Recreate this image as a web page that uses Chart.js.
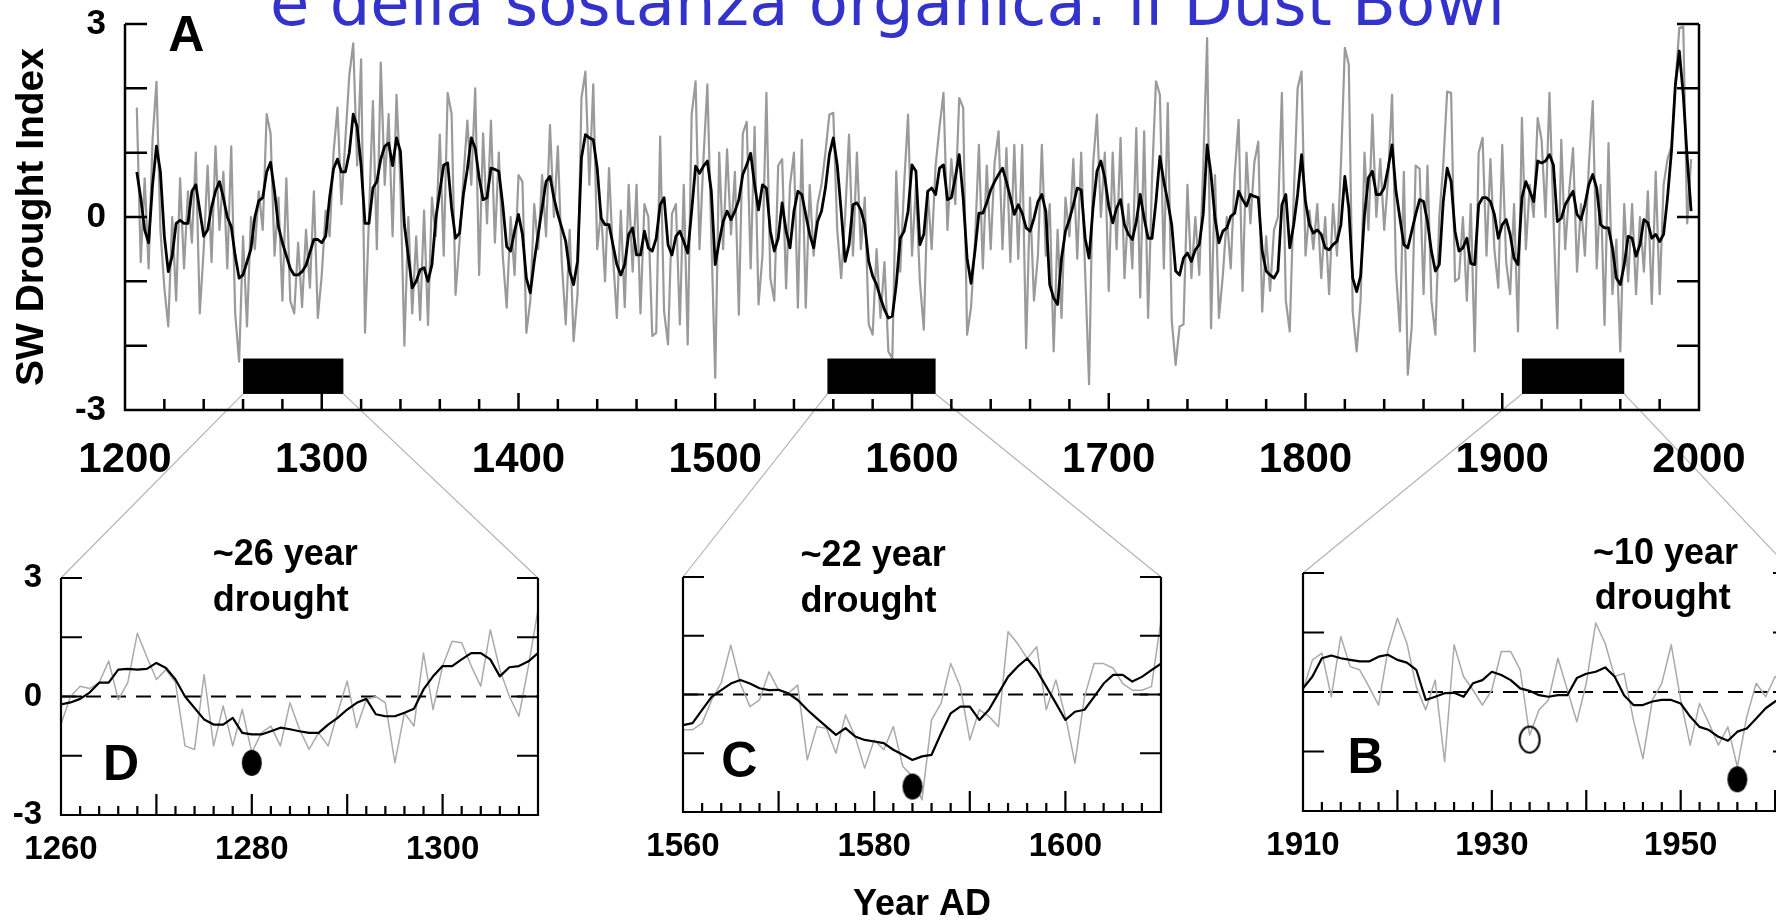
<!DOCTYPE html>
<html>
<head>
<meta charset="utf-8">
<script src="https://cdn.jsdelivr.net/npm/chart.js@4.4.1/dist/chart.umd.min.js"></script>
<style>
  html, body { margin: 0; padding: 0; background: #fff; overflow: hidden; width: 1776px; height: 922px; }
  canvas { position: absolute; }
  #title { position: absolute; left: 270px; top: -29px; font-family: 'DejaVu Sans'; font-size: 64px; line-height: 64px; color: #3333cc; white-space: nowrap; }
</style>
</head>
<body>
<div id="title">e della sostanza organica: il Dust Bowl</div>
<canvas id="links" width="1776" height="922" style="left:0;top:0"></canvas>
<canvas id="chartA" width="1776" height="480" style="left:0;top:0"></canvas>
<canvas id="chartD" width="600" height="380" style="left:0;top:520px"></canvas>
<canvas id="chartC" width="600" height="420" style="left:620px;top:520px"></canvas>
<canvas id="chartB" width="600" height="380" style="left:1240px;top:520px"></canvas>
<script>
// ---- panel A: whole record, one value every 2 years from 1206 ----
const aFirstYear = 1206;
const aStep = 2;
const aSmooth = [
  0.7, 0.3, -0.2, -0.4, 0.5, 1.1, 0.7, -0.3, -0.85, -0.6,
  -0.1, -0.05, -0.1, -0.1, 0.4, 0.5, 0.1, -0.3, -0.2, 0.15,
  0.4, 0.55, 0.3, 0.0, -0.15, -0.6, -0.95, -0.9, -0.7, -0.5,
  0.0, 0.25, 0.3, 0.7, 0.85, 0.4, -0.15, -0.4, -0.6, -0.8,
  -0.9, -0.9, -0.85, -0.75, -0.55, -0.35, -0.35, -0.4, -0.3, 0.3,
  0.75, 0.9, 0.7, 0.7, 1.0, 1.6, 1.4, 0.8, -0.1, -0.1,
  0.45, 0.55, 0.9, 1.1, 1.15, 0.8,
  1.23, 1.02, -0.12, -0.61, -1.1, -1.0, -0.82, -0.79, -1.0, -0.74,
  -0.02, 0.4, 0.81, 0.84, 0.14, -0.33, -0.25, 0.35, 0.74, 1.23,
  1.07, 0.61, 0.27, 0.3, 0.76, 0.74, 0.71, 0.19, -0.46, -0.53,
  -0.22, 0.04, -0.27, -0.95, -1.18, -0.69, -0.27, 0.14, 0.55, 0.63,
  0.3, 0.04, -0.17, -0.38, -0.84, -1.05, -0.69, 0.92, 1.28, 1.23,
  1.2, 0.76, -0.02, -0.12, -0.12, -0.43, -0.74, -0.9, -0.74, -0.27,
  -0.17, -0.59, -0.59, -0.22, -0.48, -0.53,
  -0.33, 0.19, 0.3, -0.43, -0.59, -0.3, -0.22, -0.38, -0.56, 0.09,
  0.79, 0.68, 0.79, 0.87, 0.4, -0.74, -0.38, -0.07, 0.09, -0.04,
  0.09, 0.27, 0.66, 0.81, 0.99, 0.5, 0.11, 0.5, 0.45, -0.22,
  -0.53, -0.33, 0.22, -0.22, -0.48, 0.09, 0.4, 0.35, 0.04, -0.27,
  -0.48, -0.07, 0.09, 0.45, 0.97, 1.23, 0.81, 0.09, -0.69, -0.43,
  0.19, 0.22, 0.11, -0.12, -0.69, -0.92, -1.05, -1.26, -1.44, -1.57,
  -1.54, -1.05, -0.33, -0.22, 0.09, 0.81, 0.71,
  -0.43, -0.27, 0.4, 0.45, 0.35, 0.76, 0.81, 0.27, 0.3, 0.61,
  0.97, 0.3, -0.64, -1.03, -0.53, 0.06, 0.06, 0.22, 0.42, 0.55,
  0.66, 0.76, 0.55, 0.3, 0.04, 0.19, 0.06, -0.17, -0.22, -0.02,
  0.24, 0.35, 0.09, -1.05, -1.26, -1.36, -0.64, -0.22, -0.04, 0.19,
  0.45, 0.42, -0.33, -0.64, 0.14, 0.71, 0.87, 0.61, 0.17, -0.09,
  0.14, 0.27, -0.12, -0.27, -0.35, -0.07, 0.35, -0.02, -0.33, -0.33,
  0.24, 0.94, 0.55, 0.24, -0.12, -0.84, -0.9,
  -0.64, -0.56, -0.69, -0.51, -0.43, 0.04, 1.12, 0.66, -0.02, -0.4,
  -0.22, -0.17, 0.01, 0.06, 0.4, 0.27, 0.17, 0.35, 0.32, 0.3,
  -0.53, -0.84, -0.9, -0.95, -0.84, 0.19, 0.35, -0.48, -0.12, 0.35,
  0.97, 0.24, -0.12, -0.25, -0.2, -0.27, -0.48, -0.51, -0.43, -0.38,
  -0.12, 0.63, 0.14, -0.95, -1.16, -0.92, 0.04, 0.61, 0.71, 0.35,
  0.35, 0.45, 0.76, 1.12, 0.4, -0.02, -0.43, -0.48, -0.22, 0.04,
  0.27, 0.24, -0.07, -0.53, -0.84, -0.74, 0.24, 0.76,
  0.55, -0.22, -0.53, -0.48, -0.33, -0.72, -0.74, 0.19, 0.3, 0.3,
  0.24, 0.04, -0.33, -0.12, -0.04, -0.27, -0.64, -0.74, 0.3, 0.55,
  0.4, 0.24, 0.87, 0.84, 0.87, 0.97, 0.81, -0.07, -0.02, 0.19,
  0.3, 0.4, 0.04, -0.04, 0.19, 0.5, 0.66, 0.45, -0.12, -0.17,
  -0.17, -0.48, -0.95, -1.05, -0.74, -0.3, -0.33, -0.61, -0.43, -0.04,
  -0.09, -0.33, -0.27, -0.38, -0.27, 0.3, 1.02, 2.06, 2.58, 1.9,
  0.92, 0.09
];
const aAnnual = [
  1.7, -0.7, 0.6, -0.8, 1.2, 2.1, -0.2, -1.1, -1.7, 0.0,
  -1.3, 0.6, -0.8, 0.4, -0.4, 1.0, -1.5, -0.5, 0.8, -0.7,
  1.1, -0.2, 0.7, -0.8, 1.1, -1.5, -2.25, -0.3, -1.7, 0.0,
  -0.5, 0.4, -0.2, 1.6, 1.3, -0.6, 0.3, -1.3, 0.6, -1.3,
  -1.5, -0.4, -1.4, -0.2, -1.1, 0.4, -1.57, -0.9, 0.1, -0.3,
  1.0, 1.7, 0.2, 1.2, 2.2, 2.7, 0.8, 2.45, -1.8, 0.0,
  1.8, -0.5, 2.4, 0.5, 1.6, -0.3,
  1.9, 0.5, -2.0, 0.0, -1.5, -0.3, -1.6, 0.1, -1.68, 0.3,
  -0.3, 1.28, -0.6, 1.93, 1.6, -1.21, -0.4, 0.6, 1.5, 0.5,
  2.0, -0.9, 1.3, -0.1, 1.5, -0.4, 1.0, -0.6, -1.41, 0.0,
  -0.9, 0.65, 0.55, -1.8, -1.3, 0.2, -0.5, 0.65, -0.3, 1.43,
  0.0, 1.1, -0.7, -1.67, -0.2, -1.93, -1.2, 1.85, 2.26, 0.5,
  2.06, -0.5, 0.1, -1.0, 0.76, -0.6, -1.57, 0.1, -1.4, 0.5,
  -0.85, 0.5, -1.5, 0.2, 0.0, -1.85,
  -1.8, 1.25, -1.47, -1.98, 0.05, 0.2, -1.67, 0.5, -1.98, 1.59,
  2.11, -0.5, 0.9, 2.06, -0.3, -2.5, 1.0, -0.5, 1.05, -0.27,
  0.7, -1.52, 1.3, 1.48, -0.8, 1.4, -1.36, -0.6, 1.93, -0.95,
  -1.3, 0.8, 0.9, -1.11, 0.5, 1.0, -1.41, 1.2, -1.41, 0.5,
  -0.6, 0.2, 0.5, 1.0, 1.59, 1.62, -0.2, -0.95, 0.0, 1.28,
  -0.6, 1.0, -0.5, 0.3, -1.67, -1.83, -0.5, -1.57, -0.7, -2.09,
  -2.2, 0.71, -0.85, 0.5, 1.59, -0.6, 0.5,
  -1.0, -1.75, 0.4, -0.5, 0.8, 1.4, 1.93, -0.2, 0.9, 0.2,
  1.85, 1.7, -1.83, -1.4, -0.4, 1.12, -0.8, 0.8, -0.5, 0.85,
  1.33, -0.5, 1.07, -0.7, 1.12, -0.65, 1.12, -2.04, 0.3, -1.3,
  -0.6, 1.12, -0.6, 0.2, -2.09, -0.2, -1.57, 0.3, -0.3, 0.9,
  -0.65, 1.0, -0.85, -2.6, 0.8, 1.59, 0.0, 1.0, -1.15, 1.0,
  -0.5, 1.23, -0.95, 0.2, -0.8, 1.38, -1.25, 1.33, -1.57, 0.6,
  2.11, 1.9, -0.8, 1.77, -1.6, -2.3, -1.7,
  -1.67, 0.5, -0.95, 0.0, -0.9, 0.76, 2.78, -1.73, 0.65, -1.57,
  -0.9, 0.0, -0.8, 0.65, 1.51, -1.15, 1.0, -0.1, 0.85, 1.17,
  -1.47, -0.3, -1.15, -0.2, 0.0, 1.93, -1.3, -1.78, 0.3, 2.0,
  2.26, -0.6, 0.1, -0.5, 0.2, -0.95, 0.0, -1.2, 0.2, -0.6,
  0.8, 2.63, 2.37, -1.47, -2.09, -1.3, 1.0, -0.2, 1.59, 0.0,
  0.9, -0.2, 0.6, 1.9, -0.85, -1.78, 0.7, -2.45, -1.7, 0.8,
  0.75, -1.2, 0.8, -1.3, -1.83, 0.0, 0.8, 1.95,
  1.93, -1.0, -0.95, 0.0, -1.3, 0.2, -2.09, 1.0, 1.23, -0.6,
  0.9, -0.5, -1.1, 1.12, -0.7, -1.2, 0.2, -1.78, 1.54, -0.5,
  0.5, 0.0, 1.54, 1.2, 0.0, 1.93, 0.0, -1.73, 1.2, -0.5,
  0.4, 1.07, -0.85, 0.2, -0.6, 0.8, 1.8, -0.8, 0.5, -1.68,
  1.15, -1.2, -0.35, -2.09, 0.2, -1.0, 0.2, -1.2, 0.0, -0.85,
  0.4, -1.35, 0.7, -1.2, 0.5, 0.9, 1.1, 2.06, 2.94, 2.96,
  -0.1, 0.9
];
const aYearLabels = [1200, 1300, 1400, 1500, 1600, 1700, 1800, 1900, 2000];
const indexLabels = [3, 0, -3];

// drought intervals marked in A and enlarged below
const droughtSpans = [[1260, 1311], [1557, 1612], [1910, 1962]];
const barRange = [-2.75, -2.2];

// ---- panel D: 1260-1310, annual ----
const dFirstYear = 1260;
const dAnnual = [
  -0.7, 0.0, 0.26, 0.2, 0.35, 0.9, -0.08, 0.35, 1.6, 1.0,
  0.43, 0.68, 0.35, -1.25, -1.34, 0.55, -1.25, -0.24, -1.25, -0.33,
  -1.42, -0.92, -0.75, -1.25, -0.16, -0.83, -1.34, -0.92, -1.25, -0.41,
  0.39, -0.79, -0.08, 0.0, -0.16, -1.68, -0.41, -0.75, 1.1, -0.33,
  0.77, 1.4, 1.36, 0.77, 0.26, 1.69, 0.68, 0.0, -0.5, 0.77,
  2.2
];
const dSmooth = [
  -0.2, -0.15, -0.06, 0.1, 0.35, 0.35, 0.68, 0.7, 0.68, 0.7,
  0.85, 0.72, 0.43, 0.0, -0.29, -0.58, -0.71, -0.71, -0.54, -0.92,
  -0.96, -0.96, -0.88, -0.79, -0.83, -0.88, -0.92, -0.92, -0.71, -0.54,
  -0.33, -0.16, -0.06, -0.45, -0.5, -0.5, -0.41, -0.31, 0.18, 0.51,
  0.77, 0.77, 0.94, 1.1, 1.1, 0.94, 0.51, 0.74, 0.77, 0.89,
  1.1
];
const dYearLabels = [1260, 1280, 1300];
const dFilled = [{x: 1280, y: -1.68}];

// ---- panel C: 1560-1610, annual ----
const cFirstYear = 1560;
const cAnnual = [
  -0.9, -0.9, -0.73, -0.14, 0.3, 1.26, 0.28, -0.31, -0.14, 0.58,
  0.11, 0.03, 0.24, -1.67, -0.82, -0.86, -1.5, -0.52, -1.07, -1.88,
  -1.16, -1.41, -0.82, -1.84, -2.09, -2.69, -0.65, -0.22, 0.79, 0.2,
  -1.16, -0.39, -0.56, -0.82, 1.6, 1.3, 0.92, 1.22, -0.39, 0.37,
  -0.56, -1.75, -0.06, 0.79, 0.79, 0.67, 0.28, 0.11, 0.11, 0.2,
  1.9
];
const cSmooth = [
  -0.78, -0.73, -0.39, -0.06, 0.11, 0.28, 0.37, 0.28, 0.16, 0.11,
  0.12, 0.03, -0.14, -0.39, -0.61, -0.82, -1.03, -0.86, -1.07, -1.16,
  -1.2, -1.24, -1.41, -1.54, -1.67, -1.58, -1.54, -0.99, -0.48, -0.31,
  -0.31, -0.65, -0.39, 0.03, 0.45, 0.71, 0.92, 0.62, 0.2, -0.22,
  -0.65, -0.44, -0.39, -0.06, 0.28, 0.5, 0.5, 0.33, 0.45, 0.62,
  0.79
];
const cYearLabels = [1560, 1580, 1600];
const cFilled = [{x: 1584, y: -2.35}];

// ---- panel B: 1910-1961, annual ----
const bFirstYear = 1910;
const bAnnual = [
  0.05, 0.81, 0.98, -0.12, 1.4, 0.64, 0.56, 0.13, -0.33, 1.06,
  1.86, 1.23, 0.13, -0.45, 0.3, -1.76, 1.19, 0.39, 0.05, -0.33,
  0.05, 1.02, 1.02, 0.56, -1.09, -0.45, -0.2, 0.85, 0.05, -0.75,
  0.22, 1.74, 1.23, 0.39, 0.47, -0.71, -1.68, -0.2, 0.22, 1.19,
  -0.2, -1.34, -0.29, -0.79, -1.34, -0.88, -1.89, -0.62, 0.22, -0.12,
  0.39, 0.1
];
const bSmooth = [
  0.09, 0.39, 0.85, 0.92, 0.85, 0.81, 0.77, 0.77, 0.89, 0.94,
  0.81, 0.74, 0.56, -0.2, -0.12, -0.03, -0.02, -0.12, 0.22, 0.3,
  0.51, 0.43, 0.3, 0.09, 0.03, -0.08, -0.12, -0.08, -0.08, 0.35,
  0.46, 0.51, 0.62, 0.39, -0.08, -0.33, -0.33, -0.24, -0.2, -0.2,
  -0.29, -0.62, -0.88, -0.96, -1.13, -1.23, -1.0, -0.92, -0.67, -0.41,
  -0.24, -0.12
];
const bYearLabels = [1910, 1930, 1950];
const bOpen = [{x: 1934, y: -1.2}];
const bFilled = [{x: 1956, y: -2.2}];

const FONT = "'Liberation Sans', Arial, Helvetica, sans-serif";
Chart.defaults.font.family = FONT;
Chart.defaults.color = '#000';

const toPoints = (first, step, vals) => vals.map((v, i) => ({x: first + i * step, y: v}));

function ellipseMark(filled) {
  const c = document.createElement('canvas');
  c.width = 24; c.height = 30;
  const g = c.getContext('2d');
  g.beginPath();
  g.ellipse(12, 15, 10, 13, 0, 0, Math.PI * 2);
  if (filled) { g.fillStyle = '#000'; g.fill(); }
  else { g.lineWidth = 2; g.strokeStyle = '#000'; g.stroke(); }
  return c;
}

// frame with inward ticks, no top line; optional dashed zero line, drought bars, text notes
const framePlugin = {
  id: 'frame',
  beforeDatasetsDraw(chart, args, o) {
    if (!o.zeroLine) return;
    const {ctx, chartArea: a, scales: {y}} = chart;
    const py = y.getPixelForValue(0);
    ctx.save();
    ctx.strokeStyle = '#000';
    ctx.lineWidth = 2;
    ctx.setLineDash([15, 10]);
    ctx.beginPath();
    ctx.moveTo(a.left, py);
    ctx.lineTo(a.right, py);
    ctx.stroke();
    ctx.restore();
  },
  afterDatasetsDraw(chart, args, o) {
    const {ctx, chartArea: a, scales: {x, y}} = chart;
    ctx.save();
    ctx.strokeStyle = '#000';
    ctx.lineWidth = o.width;
    ctx.beginPath();
    ctx.moveTo(a.left, a.top);
    ctx.lineTo(a.left, a.bottom);
    ctx.lineTo(a.right, a.bottom);
    ctx.lineTo(a.right, a.top);
    x.ticks.forEach(t => {
      const px = x.getPixelForValue(t.value);
      const len = t.value % o.majorEvery === 0 ? o.majorLen : o.minorLen;
      ctx.moveTo(px, a.bottom);
      ctx.lineTo(px, a.bottom - len);
    });
    y.ticks.forEach(t => {
      const py = y.getPixelForValue(t.value);
      ctx.moveTo(a.left, py);
      ctx.lineTo(a.left + o.yLen, py);
      ctx.moveTo(a.right, py);
      ctx.lineTo(a.right - o.yLen, py);
    });
    ctx.stroke();
    if (o.bars) {
      ctx.fillStyle = '#000';
      o.bars.forEach(([from, to]) => {
        const x0 = x.getPixelForValue(from), x1 = x.getPixelForValue(to);
        const y0 = y.getPixelForValue(barRange[1]), y1 = y.getPixelForValue(barRange[0]);
        ctx.fillRect(x0, y0, x1 - x0, y1 - y0);
      });
    }
    ctx.restore();
  },
  afterDraw(chart, args, o) {
    const {ctx, scales: {x, y}} = chart;
    ctx.save();
    ctx.fillStyle = '#000';
    ctx.textAlign = 'left';
    ctx.textBaseline = 'middle';
    (o.notes || []).forEach(n => {
      ctx.font = 'bold ' + n.size + 'px ' + FONT;
      ctx.fillText(n.text, x.getPixelForValue(n.x), y.getPixelForValue(n.y));
    });
    ctx.restore();
  }
};

const chartA = new Chart(document.getElementById('chartA'), {
  type: 'line',
  data: {
    datasets: [
      { data: toPoints(aFirstYear, aStep, aSmooth), borderColor: '#000', borderWidth: 2.8,
        pointRadius: 0, tension: 0, borderJoinStyle: 'round', order: 1 },
      { data: toPoints(aFirstYear, aStep, aAnnual), borderColor: '#9a9a9a', borderWidth: 2.2,
        pointRadius: 0, tension: 0, borderJoinStyle: 'round', order: 2 }
    ]
  },
  options: {
    responsive: false,
    animation: false,
    events: [],
    layout: { padding: { left: 0, top: 24, right: 77, bottom: 0 } },
    scales: {
      x: {
        type: 'linear', min: 1200, max: 2000,
        border: { display: false },
        grid: { display: false, drawTicks: false },
        ticks: {
          stepSize: 20, autoSkip: false, maxRotation: 0, minRotation: 0, padding: 25,
          font: { size: 42, weight: 'bold' },
          callback: v => aYearLabels.includes(v) ? String(v) : ''
        },
        afterFit: s => { s.height = 70; }
      },
      y: {
        min: -3, max: 3,
        border: { display: false },
        grid: { display: false, drawTicks: false },
        ticks: {
          stepSize: 1, padding: 19,
          font: { size: 35, weight: 'bold' },
          callback: v => indexLabels.includes(v) ? String(v) : ''
        },
        title: { display: true, text: 'SW Drought Index', font: { size: 39, weight: 'bold' }, padding: { top: 9, bottom: 0 } },
        afterFit: s => { s.width = 125; s.paddingTop = 0; s.paddingBottom = 0; }
      }
    },
    plugins: {
      legend: { display: false },
      tooltip: { enabled: false },
      frame: {
        width: 2.5, majorEvery: 100, majorLen: 17, minorLen: 11, yLen: 22,
        bars: droughtSpans,
        notes: [{ text: 'A', x: 1222, y: 2.8, size: 50 }]
      }
    }
  },
  plugins: [framePlugin]
});

function panelChart(id, p) {
  const datasets = p.marks.map(m => ({
    data: m.data, showLine: false, pointStyle: ellipseMark(m.filled), pointRadius: 12, order: 0
  }));
  datasets.push(
    { data: toPoints(p.first, 1, p.smooth), borderColor: '#000', borderWidth: 2.2,
      pointRadius: 0, tension: 0, borderJoinStyle: 'round', order: 1 },
    { data: toPoints(p.first, 1, p.annual), borderColor: '#aaaaaa', borderWidth: 1.5,
      pointRadius: 0, tension: 0, borderJoinStyle: 'round', order: 2 }
  );
  return new Chart(document.getElementById(id), {
    type: 'line',
    data: { datasets },
    options: {
      responsive: false,
      animation: false,
      events: [],
      layout: { padding: { left: 0, top: p.top, right: p.right, bottom: 0 } },
      scales: {
        x: {
          type: 'linear', min: p.min, max: p.max,
          border: { display: false },
          grid: { display: false, drawTicks: false },
          ticks: {
            stepSize: 2, autoSkip: false, maxRotation: 0, minRotation: 0, padding: 15,
            font: { size: 33, weight: 'bold' },
            callback: v => p.labels.includes(v) ? String(v) : ''
          },
          title: p.xTitle
            ? { display: true, text: p.xTitle, font: { size: 36, weight: 'bold' }, padding: { top: 0, bottom: 13 } }
            : { display: false },
          afterFit: s => { s.height = p.xHeight; }
        },
        y: {
          min: -3, max: 3,
          border: { display: false },
          grid: { display: false, drawTicks: false },
          ticks: {
            display: p.yLabels, stepSize: 1.5, padding: 19,
            font: { size: 33, weight: 'bold' },
            callback: v => indexLabels.includes(v) ? String(v) : ''
          },
          afterFit: s => { s.width = p.yWidth; s.paddingTop = 0; s.paddingBottom = 0; }
        }
      },
      plugins: {
        legend: { display: false },
        tooltip: { enabled: false },
        frame: { width: 2.2, majorEvery: 10, majorLen: 21, minorLen: 9, yLen: 21, zeroLine: true, notes: p.notes }
      }
    },
    plugins: [framePlugin]
  });
}

const chartD = panelChart('chartD', {
  first: dFirstYear, annual: dAnnual, smooth: dSmooth, labels: dYearLabels,
  min: 1260, max: 1310, top: 58, right: 62, yWidth: 61, xHeight: 85, yLabels: true,
  marks: [{ data: dFilled, filled: true }],
  notes: [
    { text: '~26 year', x: 1275.9, y: 3.58, size: 36 },
    { text: 'drought', x: 1275.9, y: 2.42, size: 36 },
    { text: 'D', x: 1264.4, y: -1.76, size: 50 }
  ]
});

const chartC = panelChart('chartC', {
  first: cFirstYear, annual: cAnnual, smooth: cSmooth, labels: cYearLabels,
  min: 1560, max: 1610, top: 57, right: 59, yWidth: 63, xHeight: 128, yLabels: false,
  xTitle: 'Year AD',
  marks: [{ data: cFilled, filled: true }],
  notes: [
    { text: '~22 year', x: 1572.3, y: 3.53, size: 36 },
    { text: 'drought', x: 1572.3, y: 2.36, size: 36 },
    { text: 'C', x: 1564, y: -1.75, size: 50 }
  ]
});

const chartB = panelChart('chartB', {
  first: bFirstYear, annual: bAnnual, smooth: bSmooth, labels: bYearLabels,
  min: 1910, max: 1962, top: 53, right: 46, yWidth: 63, xHeight: 89, yLabels: false,
  marks: [{ data: bOpen, filled: false }, { data: bFilled, filled: true }],
  notes: [
    { text: '~10 year', x: 1940.7, y: 3.48, size: 36 },
    { text: 'drought', x: 1940.9, y: 2.34, size: 36 },
    { text: 'B', x: 1914.7, y: -1.69, size: 50 }
  ]
});

// thin grey lines from each bar in A down to the panel that enlarges it
const links = document.getElementById('links').getContext('2d');
links.strokeStyle = '#b4b4b4';
links.lineWidth = 1.2;
[chartD, chartC, chartB].forEach((sub, i) => {
  const [from, to] = droughtSpans[i];
  const yb = chartA.scales.y.getPixelForValue(barRange[0]);
  const ox = sub.canvas.offsetLeft, oy = sub.canvas.offsetTop;
  const a = sub.chartArea;
  links.beginPath();
  links.moveTo(chartA.scales.x.getPixelForValue(from), yb);
  links.lineTo(ox + a.left, oy + a.top);
  links.moveTo(chartA.scales.x.getPixelForValue(to), yb);
  links.lineTo(ox + a.right, oy + a.top);
  links.stroke();
});
</script>
</body>
</html>
